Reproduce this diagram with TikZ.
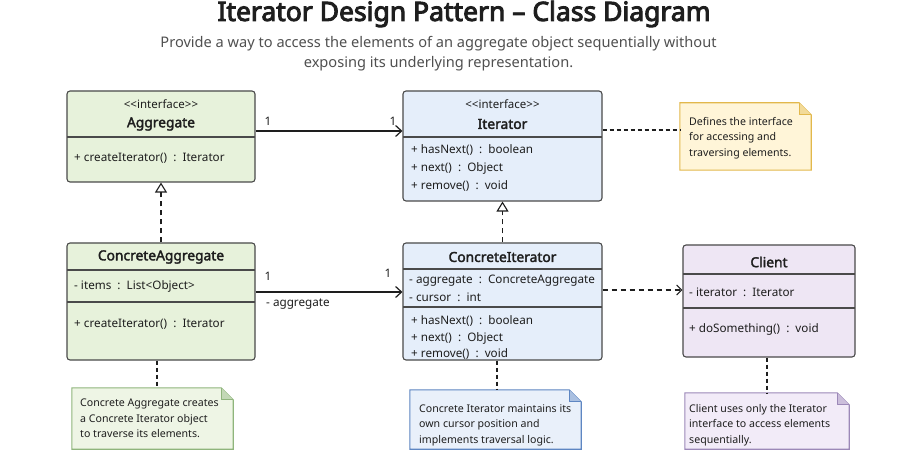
\documentclass[tikz,border=0pt]{standalone}
\usepackage{fontspec}
\setmainfont{Noto Sans}[AutoFakeBold=2.4]
\newfontfamily\titlefont{Noto Sans}[FakeBold=3.6]
\usetikzlibrary{arrows.meta}
\definecolor{txt}{HTML}{1E1E1E}
\definecolor{subtxt}{HTML}{505050}
\definecolor{edge}{HTML}{4A4A4A}
\definecolor{gfill}{HTML}{E7F2DB}
\definecolor{bfill}{HTML}{E5EEFA}
\definecolor{pfill}{HTML}{EEE6F4}
\definecolor{yfill}{HTML}{FFF5D8}
\definecolor{yedge}{HTML}{E2B84C}
\definecolor{gnfill}{HTML}{EEF5E5}
\definecolor{gnedge}{HTML}{8FB57C}
\definecolor{bnfill}{HTML}{E9F0FA}
\definecolor{bnedge}{HTML}{5E86C2}
\definecolor{pnfill}{HTML}{F2EBF8}
\definecolor{pnedge}{HTML}{9C88B8}
\tikzset{
  classbox/.style={draw=edge, line width=1.1pt, rounded corners=3pt, inner sep=0pt},
  divider/.style={draw=edge, line width=1.1pt},
  notebox/.style={inner sep=0pt},
  ctitle/.style={font=\fontsize{13.8}{15}\selectfont\bfseries, text=txt},
  stereo/.style={font=\fontsize{11.5}{13}\selectfont, text=txt},
  member/.style={font=\fontsize{11.7}{13}\selectfont, text=txt, anchor=west, inner sep=0pt},
  notetext/.style={font=\fontsize{10.6}{15.5}\selectfont, text=txt, anchor=north west, align=left, inner sep=0pt},
  mult/.style={font=\fontsize{11.7}{13}\selectfont, text=txt, inner sep=0pt},
  assoc/.style={draw=txt, line width=1.2pt, -{Straight Barb[length=6pt, width=11pt, line width=1.2pt]}},
  realize/.style={draw=txt, line width=1.1pt, dash pattern=on 5pt off 4pt, -{Triangle[open, length=10pt, width=12pt, line width=1.1pt]}},
  depend/.style={draw=txt, line width=1.1pt, dash pattern=on 5pt off 4pt, -{Straight Barb[length=5pt, width=10pt, line width=1.1pt]}},
  noteline/.style={draw=txt, line width=1.1pt, dash pattern=on 4pt off 3pt},
}
\newcommand{\notepath}[3]{%
  \draw[fill=#2, draw=#3, line width=1.1pt] (#1.north west) -- ([xshift=-12pt]#1.north east) -- ([yshift=-12pt]#1.north east) -- (#1.south east) -- (#1.south west) -- cycle;
  \draw[fill=#3!45!#2, draw=#3, line width=1.1pt, line join=round] ([xshift=-12pt]#1.north east) -- ([xshift=-12pt,yshift=-12pt]#1.north east) -- ([yshift=-12pt]#1.north east);
}
\newcommand{\stereotxt}{{<}{<}interface{>}{>}}
\begin{document}
\begin{tikzpicture}[x=1pt, y=-1pt]
\useasboundingbox[fill=white] (0,0) rectangle (921,457);

% title
\node[font=\fontsize{26.5}{30}\titlefont, text=txt] (title) at (464,14) {Iterator Design Pattern – Class Diagram};
\node[font=\fontsize{14.6}{19.5}\selectfont, text=subtxt, align=center] (sub) at (438.5,53.5) {Provide a way to access the elements of an aggregate object sequentially without\\exposing its underlying representation.};

% Aggregate
\node[classbox, fill=gfill, minimum width=188pt, minimum height=91pt] (agg) at (161,136.5) {};
\draw[divider] (67,137) -- (255,137);
\node[stereo] (aggs) at (161,104) {\stereotxt};
\node[ctitle] (aggt) at (161,124) {Aggregate};
\node[member] (aggm) at (74,158) {+ createIterator()\ \ :\ \ Iterator};

% Iterator
\node[classbox, fill=bfill, minimum width=199pt, minimum height=110pt] (it) at (502.5,146) {};
\draw[divider] (403,137) -- (602,137);
\node[stereo] (its) at (502.5,104) {\stereotxt};
\node[ctitle] (itt) at (502.5,124) {Iterator};
\node[member] (itm1) at (411,150) {+ hasNext()\ \ :\ \ boolean};
\node[member] (itm2) at (411,168) {+ next()\ \ :\ \ Object};
\node[member] (itm3) at (411,186) {+ remove()\ \ :\ \ void};

% ConcreteAggregate
\node[classbox, fill=gfill, minimum width=188pt, minimum height=117pt] (ca) at (161,301.5) {};
\draw[divider] (67,270) -- (255,270);
\draw[divider] (67,302) -- (255,302);
\node[ctitle] (cat) at (161,257) {ConcreteAggregate};
\node[member] (caa) at (74,286) {- items\ \ :\ \ List<Object>};
\node[member] (cam) at (74,324) {+ createIterator()\ \ :\ \ Iterator};

% ConcreteIterator
\node[classbox, fill=bfill, minimum width=199pt, minimum height=117pt] (ci) at (502.5,301.5) {};
\draw[divider] (403,269) -- (602,269);
\draw[divider] (403,307) -- (602,307);
\node[ctitle] (cit) at (502.5,257) {ConcreteIterator};
\node[member] (cia1) at (409,281) {- aggregate\ \ :\ \ ConcreteAggregate};
\node[member] (cia2) at (409,297) {- cursor\ \ :\ \ int};
\node[member] (cim1) at (411,321) {+ hasNext()\ \ :\ \ boolean};
\node[member] (cim2) at (411,338) {+ next()\ \ :\ \ Object};
\node[member] (cim3) at (411,354) {+ remove()\ \ :\ \ void};

% Client
\node[classbox, fill=pfill, minimum width=172pt, minimum height=112pt] (cl) at (769,301) {};
\draw[divider] (683,274) -- (855,274);
\draw[divider] (683,308) -- (855,308);
\node[ctitle] (clt) at (769,262) {Client};
\node[member] (cla) at (689,292) {- iterator\ \ :\ \ Iterator};
\node[member] (clm) at (689,329) {+ doSomething()\ \ :\ \ void};

% Notes
\node[notebox, minimum width=131pt, minimum height=67pt] (n1) at (745.5,136.5) {};
\notepath{n1}{yfill}{yedge}
\node[notetext] (n1t) at (689,117) {Defines the interface\\for accessing and\\traversing elements.};

\node[notebox, minimum width=161pt, minimum height=61pt] (n2) at (152.5,418.5) {};
\notepath{n2}{gnfill}{gnedge}
\node[notetext] (n2t) at (80,399) {Concrete Aggregate creates\\a Concrete Iterator object\\to traverse its elements.};

\node[notebox, minimum width=171pt, minimum height=59pt] (n3) at (495.5,419.5) {};
\notepath{n3}{bnfill}{bnedge}
\node[notetext] (n3t) at (419,404) {Concrete Iterator maintains its\\own cursor position and\\implements traversal logic.};

\node[notebox, minimum width=164pt, minimum height=56pt] (n4) at (767,421) {};
\notepath{n4}{pnfill}{pnedge}
\node[notetext] (n4t) at (689,404) {Client uses only the Iterator\\interface to access elements\\sequentially.};

% Connectors
\draw[assoc] ([yshift=5.5pt]agg.east) -- ([yshift=15pt]it.west);
\node[mult] (m1) at (268,121) {1};
\node[mult] (m2) at (393,121) {1};

\draw[assoc] ([yshift=9.5pt]ca.east) -- ([yshift=9.5pt]ci.west);
\node[mult] (m3) at (268,276) {1};
\node[mult] (m4) at (388,273) {1};
\node[mult, anchor=west] (m5) at (266,304) {- aggregate};

\draw[realize] (ca.north) -- (agg.south);
\draw[realize] (ci.north) -- (it.south);

\draw[depend] ([yshift=11.5pt]ci.east) -- ([yshift=11pt]cl.west);

\draw[noteline] ([yshift=16pt]it.east) -- ([yshift=6.5pt]n1.west);
\draw[noteline] ([xshift=-4pt]ca.south) -- ([xshift=4.5pt]n2.north);
\draw[noteline] ([xshift=-5.5pt]ci.south) -- ([xshift=1.5pt]n3.north);
\draw[noteline] ([xshift=-2pt]cl.south) -- (n4.north);
\end{tikzpicture}
\end{document}
